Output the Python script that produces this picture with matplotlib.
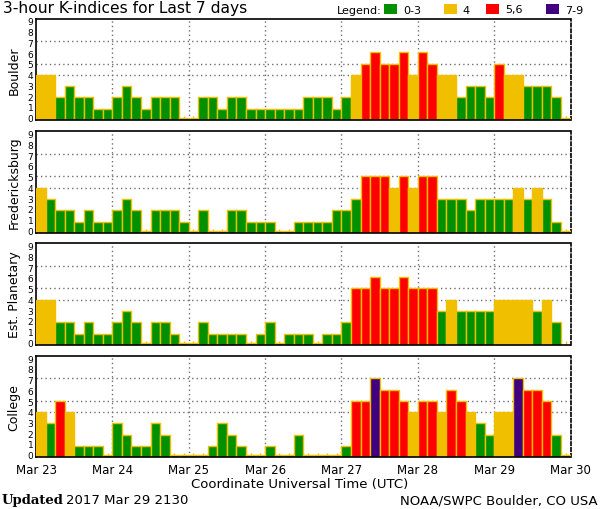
import numpy as np
import matplotlib
matplotlib.use("Agg")
import matplotlib.pyplot as plt
from matplotlib.patches import Rectangle

# ---------------- data ----------------
day_labels = ["Mar 23", "Mar 24", "Mar 25", "Mar 26", "Mar 27", "Mar 28", "Mar 29", "Mar 30"]
stations = ["Boulder", "Fredericksburg", "Est. Planetary", "College"]
k_labels = ["0", "1", "2", "3", "4", "5", "6", "7", "8", "9"]

boulder = [4, 4, 2, 3, 2, 2, 1, 1,
           2, 3, 2, 1, 2, 2, 2, 0,
           0, 2, 2, 1, 2, 2, 1, 1,
           1, 1, 1, 1, 2, 2, 2, 1,
           2, 4, 5, 6, 5, 5, 6, 4,
           6, 5, 4, 4, 2, 3, 3, 2,
           5, 4, 4, 3, 3, 3, 2, 0]
fredericksburg = [4, 3, 2, 2, 1, 2, 1, 1,
                  2, 3, 2, 0, 2, 2, 2, 1,
                  0, 2, 0, 0, 2, 2, 1, 1,
                  1, 0, 0, 1, 1, 1, 1, 2,
                  2, 3, 5, 5, 5, 4, 5, 4,
                  5, 5, 3, 3, 3, 2, 3, 3,
                  3, 3, 4, 3, 4, 3, 1, 0]
planetary = [4, 4, 2, 2, 1, 2, 1, 1,
             2, 3, 2, 0, 2, 2, 1, 0,
             0, 2, 1, 1, 1, 1, 0, 1,
             2, 0, 1, 1, 1, 0, 1, 1,
             2, 5, 5, 6, 5, 5, 6, 5,
             5, 5, 3, 4, 3, 3, 3, 3,
             4, 4, 4, 4, 3, 4, 2, np.nan]
college = [4, 3, 5, 4, 1, 1, 1, 0,
           3, 2, 1, 1, 3, 2, 0, 0,
           0, 0, 1, 3, 2, 1, 0, 0,
           1, 0, 0, 2, 0, 0, 0, 0,
           1, 5, 5, 7, 6, 6, 5, 4,
           5, 5, 4, 6, 5, 4, 3, 2,
           4, 4, 7, 6, 6, 5, 2, 0]
series = [boulder, fredericksburg, planetary, college]

legend_labels = ["0-3", "4", "5,6", "7-9"]
legend_colors = ["#009000", "#F0C000", "#FF0000", "#400080"]

def kcolor(v):
    if v <= 3:
        return legend_colors[0]
    if v == 4:
        return legend_colors[1]
    if v <= 6:
        return legend_colors[2]
    return legend_colors[3]

# ---------------- figure ----------------
W, H = 600, 510
fig = plt.figure(figsize=(W / 100, H / 100), dpi=100)
fig.patch.set_facecolor("white")

font = "DejaVu Sans"
left, width = 36 / W, 534.5 / W
tops = [19.5, 132.3, 244.3, 356.7]
ax_h = 101.5

n = len(boulder)
x = np.arange(n) / 8.0
edge = "#F0C000"
# labels are squeezed slightly inside the axis, as in the original
label_pos = 0.22 + np.arange(10) * (8.56 / 9)

for i, (name, vals) in enumerate(zip(stations, series)):
    bottom = 1 - (tops[i] + ax_h) / H
    ax = fig.add_axes([left, bottom, width, ax_h / H])
    vals = np.array(vals, dtype=float)
    ok = ~np.isnan(vals)
    heights = np.where(vals[ok] == 0, 0.18, vals[ok])
    cols = [kcolor(v) for v in vals[ok]]
    ax.bar(x[ok], heights, width=1 / 8, align="edge", color=cols,
           edgecolor=edge, linewidth=1.0, zorder=3)
    ax.set_xlim(0, 7)
    ax.set_ylim(0, 9)
    # gridlines
    for yv in (4, 5, 7):
        ax.axhline(yv, color="#707070", linestyle=(0, (1, 2.2)), linewidth=1.0, zorder=1)
    for d in range(1, 7):
        ax.axvline(d, color="#707070", linestyle=(0, (1, 2.2)), linewidth=1.0, zorder=1)
    # spines
    for s in ("top", "left", "bottom"):
        ax.spines[s].set_color("black")
        ax.spines[s].set_linewidth(1.2)
    ax.spines["right"].set_linestyle((0, (2, 1.5)))
    ax.spines["right"].set_linewidth(1.2)
    ax.spines["bottom"].set_zorder(5)
    ax.set_yticks(label_pos)
    ax.set_yticklabels(k_labels, fontsize=6.5, family=font)
    ax.tick_params(axis="y", length=0, pad=2)
    ax.set_xticks(range(8))
    ax.set_xticks(x + 1 / 16, minor=True)
    ax.tick_params(axis="x", which="minor", direction="in", length=3,
                   width=1, color=edge)
    ax.tick_params(axis="x", which="major", length=0, pad=4)
    if i == 3:
        ax.set_xticklabels(day_labels, fontsize=8.5, family=font)
    else:
        ax.set_xticklabels([])
    ax.set_ylabel(name, fontsize=9, family=font, labelpad=5)

# title
fig.text(3 / W, 1 - 13.5 / H, "3-hour K-indices for Last 7 days", fontsize=11.2,
         family=font, va="baseline", ha="left")
# legend
fig.text(337 / W, 1 - 10.5 / H, "Legend:", fontsize=8, family=font, va="center", ha="left")
box_x = [384, 444, 485.7, 545.7]
text_x = [403, 462.7, 505, 565]
for bx, tx, lab, col in zip(box_x, text_x, legend_labels, legend_colors):
    fig.patches.append(Rectangle((bx / W, 1 - 15 / H), 13.3 / W, 10 / H,
                                 transform=fig.transFigure, facecolor=col,
                                 edgecolor="none"))
    fig.text(tx / W, 1 - 10.5 / H, lab, fontsize=8, family=font, va="center", ha="left")

# x label
fig.text(300 / W, 1 - 485 / H, "Coordinate Universal Time (UTC)", fontsize=9.5,
         family=font, va="center", ha="center")
# footer
fig.text(2 / W, 1 - 501 / H, "Updated", fontsize=9.5, family="DejaVu Serif",
         weight="bold", va="center", ha="left")
fig.text(66 / W, 1 - 501 / H, "2017 Mar 29 2130", fontsize=9.5, family=font,
         va="center", ha="left")
fig.text(598 / W, 1 - 501 / H, "NOAA/SWPC Boulder, CO USA", fontsize=9.5, family=font,
         va="center", ha="right")

fig.savefig("out.png", dpi=100, facecolor="white")
